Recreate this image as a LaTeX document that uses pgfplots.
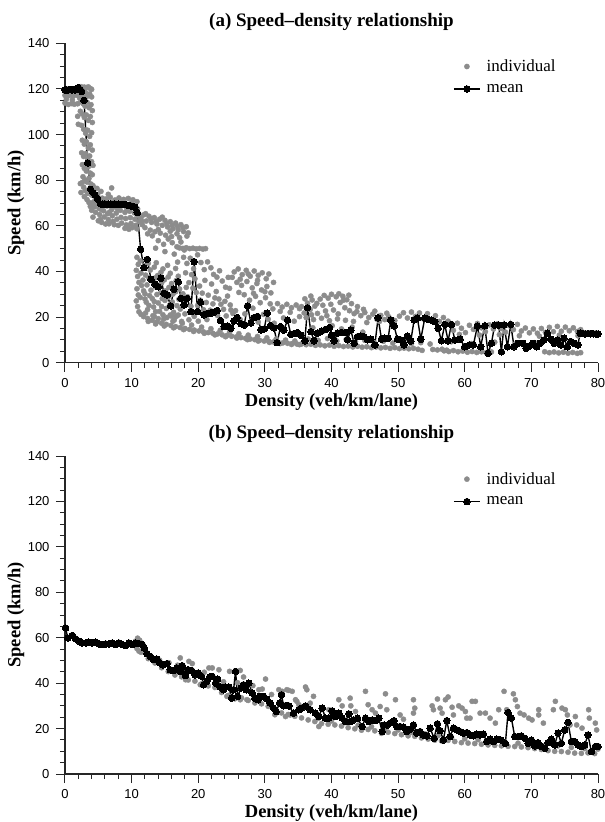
\documentclass[border=0pt]{standalone}
\usepackage{fontspec}
\setmainfont{Liberation Serif}
\setsansfont{Liberation Sans}
\usepackage{pgfplots}
\pgfplotsset{compat=1.18}
\definecolor{ptgray}{RGB}{140,140,140}
\pgfplotsset{
  spd/.style={
    scale only axis, width=533pt,
    xmin=0, xmax=80, ymin=0, ymax=140,
    axis lines*=left,
    axis line style={line width=1.1pt, draw=black!85},
    tick align=outside,
    xtick distance=10, ytick distance=20,
    minor x tick num=4, minor y tick num=3,
    major tick length=9pt, minor tick length=5pt,
    every tick/.style={line width=1pt, black!85},
    tick label style={font=\sffamily\fontsize{13}{15}\selectfont},
    xticklabel style={yshift=-3pt},
    yticklabel style={xshift=-3pt},
    /pgf/number format/assume math mode=true,
    clip=false,
    xlabel={Density (veh/km/lane)},
    ylabel={Speed (km/h)},
    label style={font=\bfseries\fontsize{18.5}{20}\selectfont},
    title style={font=\bfseries\fontsize{19}{21}\selectfont, anchor=center, yshift=-6pt},
    legend style={draw=none, fill=none, anchor=north west, font=\fontsize{17}{19}\selectfont, inner sep=0pt, row sep=7pt, column sep=4pt},
    legend cell align=left,
    legend image code/.code={\draw[mark repeat=2,mark phase=2] plot coordinates {(0pt,0pt) (13pt,0pt) (26pt,0pt)};},
  },
  ind/.style={only marks, mark=*, mark size=2.6pt, color=ptgray, mark options={draw=none, fill=ptgray}},
  mn/.style={black, line width=1.4pt, mark=*, mark size=3.3pt, mark options={fill=black, draw=black, line width=0pt}},
}
\begin{document}
\begin{tikzpicture}
\useasboundingbox (0,0) rectangle (605pt,-822pt);
% ---------------- panel (a)
\begin{axis}[spd, height=319.4pt, at={(65pt,-362.7pt)}, anchor=south west,
  title={(a) Speed–density relationship},
  title style={at={(axis description cs:0.5,1.0676)}},
  xlabel style={at={(axis description cs:0.5,-0.1227)}, anchor=center},
  ylabel style={at={(axis description cs:-0.092,0.5)}, anchor=center},
  legend style={at={(axis description cs:0.728,0.955)}}]
\addplot[ind] coordinates {
(0,119.5)(0.3,119.8)(0.6,119.4)(0.9,119.7)(1.2,119.5)(1.5,119.9)(1.8,119.6)(2.1,120.3)(2.4,120.2)
(0,117.2)(0.4,116.8)(0.8,117.3)(1.2,116.9)(1.6,117.4)(2.0,117)(2.4,118.5)
(0,113.8)(0.5,113.2)(1.0,113.6)(1.4,113.3)(1.9,113.5)(0.2,115.5)(1.1,115.2)(2.2,116)
(2.4,121)(2.6,120.5)(2.9,120.8)(3.2,120.6)(3.5,120.9)(3.8,120.2)(4.0,119.8)
(2.5,118)(2.8,117.2)(3.1,118.4)(3.4,116.9)(3.7,117.8)(4.0,116.5)
(2.4,114.5)(2.7,113.6)(3.0,112.5)(3.3,114.2)(3.6,111.8)(3.9,113.1)(4.1,110.5)
(2.3,110.2)(2.6,109)(2.9,107.5)(3.2,108.6)(3.5,106.2)(3.8,107.9)(4.1,105.3)
(1.9,108)(2.0,104.5)
(2.5,104)(2.8,102.3)(3.1,100.6)(3.4,101.9)(3.7,99.2)(4.0,100.8)
(2.6,97.5)(2.9,95.8)(3.2,96.9)(3.5,94.1)(3.8,95.5)(4.1,93.2)
(2.5,92)(2.8,90.4)(3.1,91.7)(3.4,89.3)(3.7,90.6)(4.0,88.1)(4.2,86.5)
(2.6,86.8)(2.9,85.2)(3.2,84)(3.5,85.9)(3.8,83.1)(4.1,82.4)
(2.7,81.5)(3.0,80.1)(3.3,79.2)(3.6,80.8)(3.9,78.3)(4.2,77.6)
(2.8,76.9)(3.1,75.4)(3.4,74.2)(3.7,76.1)(4.0,73.5)(2.9,72.8)(3.3,71.5)(3.6,70.2)(2.6,79)(2.3,78.5)(2.4,74.6)
(4.3,74.8)(4.5,71.2)(4.4,68.3)(4.6,65.9)(4.2,63.8)
(4.9,73.6)(5.0,70.4)(5.1,67.7)(5.2,64.9)(5.3,62.8)
(5.6,72.1)(5.7,69.3)(5.8,66.6)(5.9,63.9)(5.5,61.5)
(6.2,71.8)(6.3,68.7)(6.4,65.3)(6.5,62.7)(6.1,60.8)
(6.8,72.5)(6.9,69.9)(7.0,67.1)(7.1,64.4)(7.2,61.9)(7.0,76.6)(6.5,73.8)
(7.5,71.3)(7.6,68.2)(7.7,65.6)(7.8,62.9)(7.4,60.5)
(8.1,72.2)(8.2,69.5)(8.3,66.8)(8.4,63.7)(8.5,61.2)
(8.8,71.6)(8.9,68.9)(9.0,65.9)(9.1,63.2)(9.2,60.4)(9.0,58.9)
(9.5,72.0)(9.6,69.1)(9.7,66.4)(9.8,63.6)(9.9,61.0)(9.6,58.5)
(10.2,71.4)(10.3,68.6)(10.4,65.7)(10.5,62.9)(10.6,60.2)(10.1,59.2)
(10.8,70.6)(10.9,67.4)(11.0,64.3)(11.1,61.8)
(4.8,76.4)(5.4,75.1)(3.9,74.8)(4.1,70.1)(4.0,66.8)(3.8,68.5)
(4.7,69.8)(5.4,67.2)(6.0,70.5)(6.7,66.0)(7.3,70.2)(7.9,67.4)(8.6,70.3)(9.3,67.5)(10.0,70.0)(10.6,66.9)(5.0,62.2)(6.6,60.9)(8.0,60.2)(9.4,59.6)(10.8,58.7)
(11.4,63.5)(11.8,64.8)(12.2,62.1)(12.6,64.2)(13.0,61.5)(13.4,63.6)(13.8,60.8)(14.2,62.9)(14.6,60.2)(15.0,62.4)(15.4,59.5)(15.8,61.8)(16.2,58.7)(16.6,61.2)(17.0,58.2)(17.4,60.5)(17.8,57.5)(18.2,59.6)(18.5,56.9)
(11.5,62.1)(12.1,65.3)(12.9,63.0)(13.7,62.0)(14.6,63.8)(15.3,61.0)(16.1,60.2)(16.9,59.7)(17.7,59.2)(13.1,55.6)(14.0,58.4)(15.8,57.6)(16.8,56.5)(18.3,55.5)
(12.0,59.2)(12.8,58.1)(13.5,57.4)(14.3,56.8)(15.1,55.9)(16.0,55.3)(17.2,54.8)(11.6,60.5)(12.4,56.5)
(14.0,53.5)(14.8,51.9)(15.5,54.2)(16.1,52.6)(16.8,50.8)(17.4,52.9)(13.6,50.2)(15.0,48.7)(16.4,47.6)(17.9,49.4)
(17.2,50.3)(17.7,50.1)(18.2,50.4)(18.7,50.0)(19.2,50.2)(19.7,49.9)(20.2,50.1)(20.7,49.8)(21.1,50.0)
(10.8,46.2)(11.0,43.1)(10.7,40.5)(10.9,37.8)(11.1,35.2)(10.8,32.4)(11.0,29.7)(10.7,27.1)(10.9,24.6)(11.1,22.3)(11.3,44.6)(11.4,39.3)(11.5,33.8)(11.3,28.6)(11.4,21.2)
(11.9,42.5)(12.1,38.4)(12.3,34.1)(12.0,30.2)(12.2,26.5)(12.4,23.3)
(12.8,40.6)(13.0,35.9)(12.9,31.8)(13.1,28.1)(13.3,24.4)(13.2,20.6)
(13.7,43.8)(13.9,38.2)(14.1,33.6)(13.8,29.9)(14.0,26.2)(14.2,22.5)(14.0,19.3)
(14.7,41.1)(14.9,36.3)(15.1,31.5)(15.0,27.3)(15.2,23.8)(15.3,19.8)
(15.8,39.2)(16.0,34.7)(16.2,30.1)(16.1,26.6)(16.3,22.1)(16.4,18.7)
(16.9,44.1)(17.0,37.9)(17.2,32.3)(17.1,27.8)(17.3,23.5)(17.5,18.1)
(11.7,36.2)(11.8,31.5)(12.0,27.9)(12.5,43.6)(12.6,37.2)(12.7,29.4)(12.6,25.1)(13.4,41.9)(13.5,37.1)(13.6,33.2)(13.4,26.8)(13.6,22.4)(14.4,39.6)(14.5,35.0)(14.4,30.7)(14.6,28.1)(14.5,24.6)(14.7,21.0)(15.4,42.7)(15.5,37.6)(15.6,33.0)(15.5,28.8)(15.7,25.2)(15.8,20.9)(16.6,41.3)(16.7,36.0)(16.6,31.1)(16.8,25.0)(16.7,20.3)(17.7,30.2)(17.9,26.3)(18.0,21.4)(18.2,33.0)(19.0,38.6)(19.2,32.7)(19.9,25.1)(20.6,30.5)(21.2,26.4)(21.8,23.0)(22.5,28.4)(23.4,25.6)(24.0,26.9)(24.9,23.1)(24.2,20.5)(22.9,20.7)(21.3,18.9)(20.0,18.2)(18.6,18.8)(17.0,20.9)(16.0,20.4)
(17.8,46.2)(18.3,43.5)(18.8,45.8)(19.3,41.2)(18.1,39.4)(19.9,47.3)(20.4,43.9)(20.9,40.8)(21.4,44.2)(21.9,41.6)(22.3,38.7)
(18.6,35.1)(19.5,36.8)(20.2,33.6)(21.0,36.1)(22.0,34.5)(22.8,37.5)(23.2,40.3)(23.6,35.8)(24.1,33.1)(24.5,37.4)
(18.4,28.9)(18.9,24.7)(19.4,20.3)(19.7,30.8)(20.3,27.4)(20.8,23.2)(21.5,29.6)(22.2,25.8)(22.7,31.2)(23.1,27.9)(23.8,23.4)(24.4,29.2)(24.8,25.3)(25.2,21.6)
(11.8,20.2)(12.4,19.4)(13.1,18.6)(13.8,17.9)(14.5,17.3)(15.2,16.8)(15.9,16.3)(16.6,15.8)(17.3,15.4)(18.0,15.0)(18.7,14.6)(19.4,14.3)(20.1,13.9)(20.8,13.5)(21.5,13.2)(22.2,12.9)(22.9,12.6)(23.6,12.2)(24.3,11.9)(25.0,11.6)(25.7,11.3)(26.4,11.0)(27.1,10.7)(27.8,10.4)(28.5,10.1)(29.2,9.8)(29.9,9.5)(30.6,9.3)(31.3,9.1)(32.0,8.9)(32.7,8.7)(33.4,8.5)(34.1,8.4)(34.8,8.2)
(12.1,21.8)(13.4,20.3)(14.8,19.1)(16.2,18.2)(17.6,17.3)(19.0,16.5)(20.5,15.6)(21.9,14.9)(23.3,14.2)(24.7,13.4)(26.1,12.7)(27.5,12.1)(28.9,11.5)(30.3,10.9)(31.7,10.4)(33.1,9.9)(34.5,9.5)
(12.5,18.1)(13.6,17.0)(14.9,16.1)(16.3,15.3)(17.8,14.5)(19.3,13.7)(20.9,12.9)(22.5,12.2)(24.1,11.4)(25.8,10.8)(27.4,10.1)(29.0,9.5)(30.7,8.9)(32.3,8.4)(34.0,8.0)(35.2,7.9)
(25.4,39.8)(26.0,41.1)(26.6,38.6)(27.2,40.5)(27.8,37.9)(28.4,40.2)(29.0,38.3)(29.6,39.4)(30.2,36.8)
(25.1,37.4)(26.3,36.6)(27.5,38.9)(28.9,36.1)(30.6,38.9)(31.3,35.2)(26.1,30.8)(28.3,30.4)(30.0,31.1)(24.7,32.6)
(25.8,35.2)(26.5,33.9)(27.3,35.6)(28.1,32.8)(28.8,34.7)(29.5,31.9)(30.3,33.4)(30.9,30.6)
(26.9,29.8)(27.7,27.4)(28.6,29.1)(29.3,26.3)(30.1,28.5)(30.8,25.8)(31.2,23.6)
(31.9,25.9)(32.6,24.4)(33.3,25.6)(34.0,24.1)(34.7,25.3)(35.2,23.7)(32.3,22.5)(33.8,22.1)
(25.6,22.8)(26.3,18.9)(27.0,21.4)(28.2,23.9)(29.0,17.8)(29.8,21.2)(30.5,19.1)(31.4,17.3)(32.8,19.6)(34.4,18.2)
(35.5,24.6)(35.9,21.8)(36.4,26.1)(36.8,23.3)(37.1,27.5)(37.5,24.8)(37.9,21.6)(38.3,27.9)(38.7,25.2)(39.1,22.7)(39.5,28.3)(39.9,25.6)(40.3,23.1)(40.7,28.9)(41.1,30.2)(41.3,26.4)(41.7,29.1)(42.0,24.1)(42.3,27.6)(42.7,22.8)(43.0,25.9)(43.4,21.5)
(36.0,28.0)(36.9,29.2)(37.8,26.0)(38.9,29.5)(40.0,30.0)(41.8,27.4)(42.6,29.6)(39.3,20.6)(41.0,21.4)(37.0,21.0)(35.2,20.2)(43.9,24.6)(44.8,23.4)(46.5,22.6)(48.3,21.7)(47.2,18.1)(45.3,17.6)
(36.2,19.8)(37.3,18.9)(38.5,19.5)(39.7,18.4)(40.9,19.2)(42.1,18.6)(43.3,18.1)
(43.8,22.4)(44.4,20.6)(45.0,22.0)(45.6,19.8)(46.2,21.3)(46.8,19.1)(47.4,20.7)(48.0,18.9)(48.6,20.1)
(49.5,18.5)(50.2,20.4)(50.8,21.9)(51.4,19.6)(52.0,22.2)(52.6,20.3)(53.2,21.8)(53.8,19.2)(54.4,21.5)(55.0,18.8)(55.6,20.6)(56.2,18.1)(56.8,19.8)(57.4,17.6)
(35.5,8.2)(36.2,7.9)(36.9,8.1)(37.6,7.6)(38.3,7.8)(39.0,7.4)(39.7,7.7)(40.4,7.2)(41.1,7.5)(41.8,7.1)(42.5,7.3)(43.2,6.9)(43.9,7.2)(44.6,6.8)(45.3,7.0)(46.0,6.6)(46.7,6.9)(47.4,6.5)(48.1,6.7)(48.8,6.3)(49.5,6.6)(50.2,6.2)(50.9,6.4)(51.6,6.1)(52.3,6.3)(53.0,5.9)(53.6,5.4)(55.2,5.8)(55.9,5.6)(56.6,5.9)(57.3,5.5)
(36.5,10.4)(38.0,9.8)(39.4,10.6)(40.8,9.5)(42.2,10.2)(43.6,9.3)(45.0,9.8)(46.4,8.9)(47.8,9.4)(49.2,8.6)(50.6,9.1)(52.0,8.4)(53.4,8.8)(54.8,8.2)
(37.2,15.3)(38.8,13.9)(40.1,16.2)(41.5,14.8)(43.1,15.6)(44.7,13.4)
(57.8,16.9)(58.3,14.2)(58.9,17.3)(59.5,15.1)(60.1,13.2)(60.7,16.4)(61.3,14.6)(61.9,17.2)(62.5,15.3)(63.1,13.6)(63.7,16.6)(64.3,14.8)(64.9,17.0)(65.5,15.0)(66.1,13.4)(66.7,16.2)(67.3,14.5)(67.9,16.8)(68.5,13.9)(69.1,15.2)(69.7,13.1)(70.3,14.8)(70.9,12.9)(71.5,15.0)(72.1,13.3)(72.7,15.5)(73.3,13.6)(73.9,15.9)(74.5,13.8)(75.1,15.6)(75.7,14.0)(76.3,15.3)(76.9,13.7)(77.4,14.5)
(57.5,18.2)(59.2,12.4)(62.2,12.1)(65.2,12.3)(68.2,11.8)(71.2,11.6)(74.2,12.1)(77.0,11.8)
(56.9,5.2)(57.6,4.9)(58.3,5.3)(59.0,4.8)(59.7,5.1)(60.4,4.6)(61.1,4.9)(61.8,4.5)(62.5,4.8)(63.2,4.4)(64.0,4.7)
(72.0,4.8)(72.7,4.4)(73.4,4.7)(74.1,4.3)(74.8,4.6)(75.5,4.2)(76.2,4.5)(76.9,4.1)(77.4,4.4)
(58.0,9.2)(61.0,8.4)(64.5,9.0)(67.5,8.1)(70.5,8.8)(73.5,9.4)(76.5,8.6)
(77.6,12.8)(78.0,13.1)(78.4,12.6)(78.8,13.0)(79.2,12.7)(79.6,12.9)(80,12.8)
};
\addlegendentry{individual}
\addplot[mn] coordinates {
(0,119.6)(0.25,119.6)(0.5,119.6)(0.75,119.7)(1.0,119.6)(1.25,119.7)(1.5,119.6)(1.75,119.8)(2.0,120.6)(2.3,119.6)(2.5,118.9)(2.85,115)(3.4,87.6)(3.85,76)(4.2,74.6)(4.5,73.5)(4.9,71.7)(5.35,69.6)(5.7,69.5)(6.0,69.6)(6.3,69.4)(6.6,69.5)(6.9,69.6)(7.2,69.4)(7.5,69.5)(7.8,69.4)(8.1,69.5)(8.4,69.4)(8.7,69.3)(9.0,69.3)(9.3,69.1)(9.6,68.9)(9.9,68.7)(10.2,68.5)(10.5,68.2)(10.85,65.8)(11.35,49.7)(11.85,41.7)(12.35,45.3)(12.9,36.6)(13.5,34.4)(14.0,33.3)(14.4,37)(14.85,30.4)(15.35,29.7)(15.85,24.9)(16.35,32.2)(17.0,35.5)(17.4,28.2)(17.9,25.3)(18.35,28.2)(18.9,22.4)(19.4,44.3)(19.9,22.4)(20.35,26.5)(20.85,21.0)(21.4,21.6)(21.9,21.7)(22.4,22.2)(22.85,22.9)(23.35,18.5)(23.9,15.8)(24.4,16.1)(24.9,15.1)(25.35,18.3)(25.85,19.8)(26.4,17.1)(26.9,16.5)(27.4,24.9)(27.9,17.4)(28.4,19.8)(28.9,20.3)(29.4,14.4)(29.9,14.8)(30.35,21.7)(30.85,16.3)(31.35,15.2)(31.85,8.8)(32.35,15.8)(32.85,14.3)(33.4,18.7)(33.9,12.4)(34.4,12.8)(34.9,13.2)(35.4,12.1)(36.0,9.6)(36.4,24.1)(36.9,13.6)(37.4,9.6)(37.9,12.9)(38.5,13.9)(39.1,14.6)(39.7,15.4)(40.0,12.1)(40.4,9.6)(40.9,12.9)(41.5,13.2)(42.1,13.2)(42.4,10)(42.9,14.3)(43.4,8.5)(43.9,11.4)(44.4,11.7)(44.9,11.4)(45.4,10)(45.9,10.3)(46.5,7.8)(47.0,19.7)(47.5,10.3)(48.0,10.7)(48.5,10.7)(48.9,18.7)(49.4,16.1)(49.9,10.3)(50.4,10.0)(50.9,7.8)(51.4,11.7)(51.9,9.5)(52.4,18.7)(52.9,19.5)(53.4,10.3)(54.0,19.5)(54.5,19.0)(55.0,18.7)(55.5,18.0)(56.0,15.1)(56.5,9.6)(57.0,16.8)(57.5,9.6)(58.0,16.8)(58.5,10.0)(59.3,10.3)(60.0,7.0)(60.7,7.8)(61.3,7.8)(61.9,16.1)(62.4,7.0)(63.0,16.2)(63.5,4.1)(64.0,8.5)(64.5,16.5)(65.1,16.5)(65.5,4.8)(65.9,16.5)(66.4,7.0)(66.9,16.8)(67.4,7.0)(68.0,8.5)(68.7,8.5)(69.2,6.3)(69.7,7.3)(70.2,8.5)(70.8,7.0)(71.3,8.5)(71.9,10.0)(72.4,12.9)(72.9,10.3)(73.4,8.5)(73.9,10.0)(74.4,7.8)(74.9,10.7)(75.4,7.0)(75.9,9.3)(76.4,8.5)(77.0,7.8)(77.3,12.9)(77.7,12.8)(78.1,12.6)(78.5,12.8)(78.9,12.7)(79.3,12.7)(79.7,12.6)(80.0,12.6)
};
\addlegendentry{mean}
\end{axis}
% ---------------- panel (b)
\begin{axis}[spd, height=318pt, at={(65pt,-774pt)}, anchor=south west,
  title={(b) Speed–density relationship},
  title style={at={(axis description cs:0.5,1.0708)}},
  xlabel style={at={(axis description cs:0.5,-0.1226)}, anchor=center},
  ylabel style={at={(axis description cs:-0.092,0.5)}, anchor=center},
  legend style={at={(axis description cs:0.728,0.955)}}]
\addplot[ind] coordinates {
(10.6,58.5)(10.9,59.8)(11.2,58.9)(11.5,57.6)(10.8,55.2)(11.1,54.1)(11.4,53.6)(11.7,55.8)
(12.5,50.8)(13.5,48.9)(14.5,46.8)(15.5,45.1)(16.5,43.6)(17.5,42.8)(18.5,41.4)(19.5,40.9)(20.5,39.7)(21.5,38.8)(22.5,38.1)(23.5,35.9)(24.5,34.6)(25.5,33.1)(26.5,33.5)(27.5,32.4)(28.5,31.3)(29.5,30.9)(30.5,29.8)(31.5,26.1)(32.5,26.9)(33.5,26.2)(34.5,25.4)(35.5,24.7)(36.5,23.8)(37.5,23.1)(38.5,22.2)(39.5,21.9)(40.5,21.6)(41.5,21.1)(42.5,20.4)(43.5,19.9)(44.5,19.3)(45.5,19.6)(46.5,19.0)(47.5,17.9)(48.5,18.4)(49.5,17.8)(50.5,17.3)(51.5,16.8)(52.5,16.6)(53.5,15.9)(54.5,15.4)(55.5,14.9)(56.5,14.6)(57.5,14.8)(58.5,14.3)(59.5,13.8)(60.5,13.6)(61.5,13.4)(62.5,13.1)(63.5,12.8)(64.5,12.6)(65.5,12.4)(66.5,12.2)(67.5,12.1)(68.5,11.9)(69.5,11.6)(70.5,11.2)(71.5,10.8)(72.5,10.3)(73.5,10.0)(74.5,9.9)(75.5,9.6)(76.5,9.2)(77.5,9.1)(78.5,9.3)(79.5,9.0)
(38,24.5)(40,23.4)(42,22.6)(44,21.5)(46,20.8)(48,19.8)(50,19.4)(52,18.3)(54,17.7)(56,16.9)(58,16.2)(60,15.5)(62,15.1)(64,14.4)(66,14.0)(68,13.6)(70,13.2)(72,12.5)(74,12.4)(76,11.7)(78,11.2)(80,11.0)
(17.3,51.1)(18.6,49.6)(19.1,48.6)(21.6,46.7)(22.1,46.7)(23.1,45.9)(20.3,39.3)(24.7,45.2)(26.3,45.6)(26.8,42.7)(27.3,32.7)(30.1,41.8)(29.1,37.1)(29.6,37.4)(32.1,37.1)(32.6,36.4)(33.6,36.8)(34.1,36.4)(34.8,32)(33.1,25.3)(33.8,26)(24.3,34.2)(25.3,33.4)(26.3,32.7)(18.1,41.5)(14.2,50.1)(15.6,49.0)(16.9,47.9)(20.9,44.8)(23.8,40.6)(25.9,40.2)(28.2,38.9)(31.0,35.0)
(33.3,37.1)(36.1,38.3)(36.3,37.1)(37.3,34.2)(34.6,32.7)(35.1,30.5)(36.8,31.2)(38.1,20.9)(39.6,28.3)(41.1,32.7)(41.6,30)(42.8,33.4)(42.9,30)(43.6,27.5)(45.1,36.4)(45.5,30.5)(46.1,28.3)(46.6,26.8)(47.3,29.7)(48.1,35.3)(48.3,28.3)(49.6,32.7)(50.3,26)(50.8,24.1)(52.3,32.7)(52.5,29)(52.3,26.8)(55.1,30)(55.3,28.3)(55.9,33)(56.3,29)(56.6,26.8)(57.1,32.7)(57.5,33.9)(58.1,29.4)(58.3,26)(59.1,30)(59.6,29)(60.1,27.5)(60.3,24.6)(60.8,24.6)(61.1,32)(61.6,32)(62.3,26.8)(63.1,26.8)(63.8,24.6)(64.6,22.4)(65.1,28.3)(65.9,36.4)(66.3,28.3)(67.3,35.3)(67.6,32.7)(67.9,29.7)(68.3,26.8)(68.9,26)(69.6,24.6)(70.1,23.8)(71.1,28.3)(71.1,26)(71.8,22.4)(73.6,32)(73.3,28.3)(74.6,29)(75.1,28.3)(75.4,26)(75.8,21.6)(76.6,25.3)(76.8,21.6)(77.6,20.2)(78.6,28.3)(78.7,24.6)(79.6,22.4)(79.8,19.4)
};
\addlegendentry{individual}
\addplot[mn] coordinates {
(0.1,64.3)(0.4,59.9)(1.1,61)(1.6,59.5)(2.1,58.5)(2.6,57.7)(3.1,57.7)(3.6,58)(4.1,57.7)(4.6,58)(5.1,57.3)(5.6,57)(6.1,57.3)(6.6,57.3)(7.1,57.7)(7.6,57)(8.1,57.7)(8.6,57)(9.1,56.5)(9.6,57.7)(10.1,57)(10.6,57.7)(11.1,57.4)(11.6,57)(11.9,55.5)(12.3,53)(12.8,51.8)(13.3,50.4)(13.8,50.6)(14.2,48.9)(14.7,48.1)(15.3,48.6)(15.8,45.9)(16.3,45.6)(16.8,46.7)(17.3,45.2)(17.6,47.7)(18.1,43.3)(18.5,45.9)(19,45.6)(19.5,43.7)(20,44.5)(20.5,43)(20.8,39.3)(21.3,40.8)(21.7,42.7)(22.1,43)(22.6,40)(22.9,41.8)(23.3,38.3)(23.8,37.1)(24.1,38.3)(24.6,38.3)(25,33.4)(25.3,37.1)(25.6,45.2)(25.9,34.2)(26.4,37.8)(26.8,39.3)(27.2,37.1)(27.6,40)(28.1,35.6)(28.5,33.4)(29,32.7)(29.3,34.2)(29.8,34.2)(30.3,33)(30.8,31.2)(31.3,29)(31.7,27.5)(32.2,31.2)(32.5,34.9)(32.8,30)(33.2,30.2)(33.6,30)(34.3,26.8)(35.1,28.3)(35.6,29.1)(36.1,30)(36.8,28.3)(37.6,26.8)(38.1,25.3)(38.6,29)(39.1,24.6)(39.6,24.6)(40.1,27.8)(40.6,25.3)(41.1,26.8)(41.6,24.6)(42.1,23.1)(42.6,26.5)(42.8,23.1)(43.3,23.8)(43.9,24.6)(44.6,20.9)(45.1,24.6)(45.6,23.1)(46.1,23.8)(46.6,23.5)(47.1,24.6)(47.6,18.7)(47.9,21.6)(48.4,21.6)(48.9,22.6)(49.4,23.5)(49.8,20.9)(50.3,20.9)(50.8,20.6)(51.3,18.7)(51.8,19.7)(52.3,21.6)(52.8,18)(53.3,18.7)(53.8,17.2)(54.3,16.8)(54.8,20.2)(55.4,15.7)(55.9,22.1)(56.3,19.1)(56.8,15)(57.3,23.5)(57.8,16.5)(58.3,20.2)(58.8,19.4)(59.3,18.7)(59.8,18)(60.3,18.2)(60.8,17.2)(61.3,16.8)(61.8,17.5)(62.3,17.2)(62.8,17.6)(63.3,14.3)(63.8,15.3)(64.3,14.3)(64.8,15.3)(65.4,15)(66.1,13.5)(66.5,27.1)(67,24.6)(67.5,16.5)(68,16.5)(68.5,16.8)(69,15.7)(69.5,13.5)(70,15)(70.5,12.4)(71,13.8)(71.5,12.1)(72,11.3)(72.5,13.8)(73,15.3)(73.5,12.8)(74,18)(74.5,13.5)(75,19.4)(75.5,22.7)(76,14.3)(76.5,14.3)(77,12.8)(77.5,12.1)(78,12.8)(78.5,17.2)(79,9.9)(79.6,12.1)(80,12.1)
};
\addlegendentry{mean}
\end{axis}
\end{tikzpicture}
\end{document}
